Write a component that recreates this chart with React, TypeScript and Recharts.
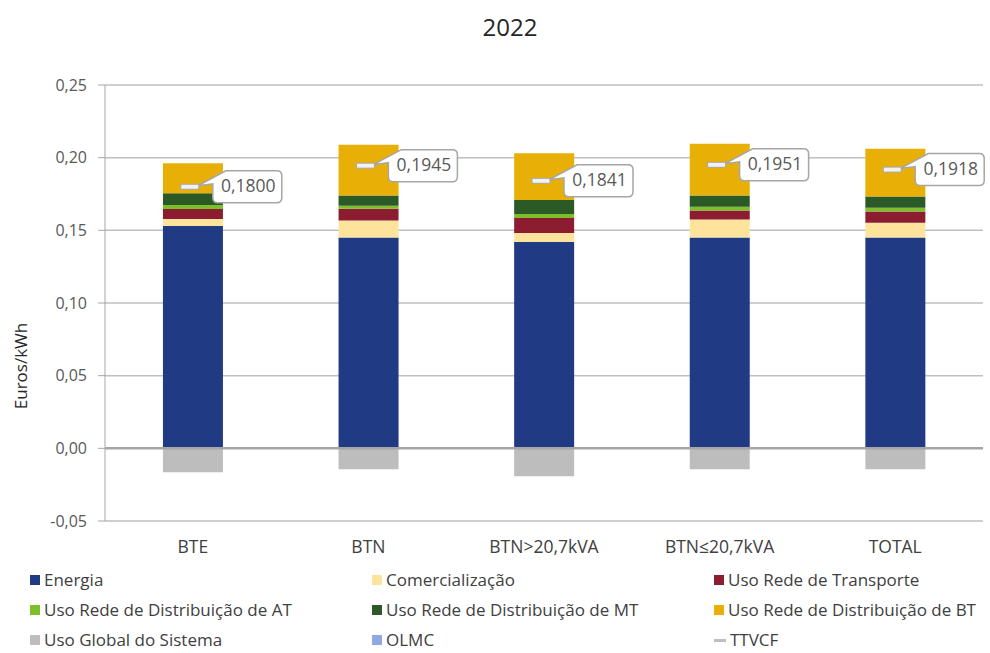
import { ComposedChart, Bar, Line, XAxis, YAxis, CartesianGrid, ReferenceLine } from 'recharts';

const categories = ['BTE', 'BTN', 'BTN>20,7kVA', 'BTN≤20,7kVA', 'TOTAL'];
const energia = [0.153, 0.145, 0.142, 0.145, 0.145];
const comercializacao = [0.0048, 0.0117, 0.0062, 0.0124, 0.0103];
const transporte = [0.0068, 0.0082, 0.0103, 0.0062, 0.0076];
const distribAT = [0.0028, 0.0021, 0.0027, 0.0027, 0.0027];
const distribMT = [0.0082, 0.0069, 0.0096, 0.0076, 0.0076];
const distribBT = [0.0206, 0.035, 0.0323, 0.0357, 0.0329];
const usoGlobal = [-0.0165, -0.0144, -0.0192, -0.0144, -0.0144];
const olmc = [0, 0, 0, 0, 0];
const ttvcf = [0.18, 0.1945, 0.1841, 0.1951, 0.1918];
const yTicks = [-0.05, 0, 0.05, 0.1, 0.15, 0.2, 0.25];

const series = [
  { key: 'energia', name: 'Energia', color: '#203a84' },
  { key: 'comercializacao', name: 'Comercialização', color: '#fde39b' },
  { key: 'transporte', name: 'Uso Rede de Transporte', color: '#8c1d30' },
  { key: 'distribAT', name: 'Uso Rede de Distribuição de AT', color: '#7cbf2a' },
  { key: 'distribMT', name: 'Uso Rede de Distribuição de MT', color: '#2b5a27' },
  { key: 'distribBT', name: 'Uso Rede de Distribuição de BT', color: '#e8b006' },
  { key: 'usoGlobal', name: 'Uso Global do Sistema', color: '#bdbdbd' },
  { key: 'olmc', name: 'OLMC', color: '#8faae0' },
];

const data = categories.map((c, i) => ({
  cat: c,
  energia: energia[i],
  comercializacao: comercializacao[i],
  transporte: transporte[i],
  distribAT: distribAT[i],
  distribMT: distribMT[i],
  distribBT: distribBT[i],
  usoGlobal: usoGlobal[i],
  olmc: olmc[i],
  ttvcf: ttvcf[i],
}));

const FONT = '"Open Sans", Lato, sans-serif';
const fmt = (v: number, d: number) => v.toFixed(d).replace('.', ',');

// marker + callout box for TTVCF
const CalloutDot = (props: any) => {
  const { cx, cy, value, index } = props;
  if (cx == null || cy == null) return null;
  const L = cx + 20, T = cy - 16, W = 69, H = 32, R = L + W, B = T + H;
  const tipX = cx + 5, tipY = cy - 1;
  const d = `M${L + 13},${T} H${R - 5} Q${R},${T} ${R},${T + 5} V${B - 5} Q${R},${B} ${R - 5},${B} H${L + 5} Q${L},${B} ${L},${B - 5} V${T + 13} L${tipX},${tipY} Z`;
  return (
    <g key={`c-${index}`}>
      <path d={d} fill="#fff" stroke="#a6a6a6" strokeWidth={1.5} />
      <rect x={cx - 12} y={cy - 2.5} width={18} height={5} fill="#f2f2f2" stroke="#a6a6a6" strokeWidth={1} />
      <text x={L + W / 2 + 1} y={cy + 1} textAnchor="middle" dominantBaseline="middle" fontSize={17.5} fill="#595959" fontFamily={FONT}>
        {fmt(value, 4)}
      </text>
    </g>
  );
};

export default function App() {
  return (
    <div style={{ position: 'absolute', left: 0, top: 0, width: 990, height: 653, background: '#fff', fontFamily: FONT }}>
      <div style={{ position: 'absolute', left: 0, width: 1020, top: 10, lineHeight: '34px', textAlign: 'center', fontSize: 24, color: '#262626' }}>2022</div>
      <div style={{ position: 'absolute', left: 20, top: 366, transform: 'translate(-50%, -50%) rotate(-90deg)', fontSize: 17, color: '#262626', whiteSpace: 'nowrap' }}>Euros/kWh</div>
      <ComposedChart width={990} height={653} data={data} stackOffset="sign" barCategoryGap="33%"
        margin={{ top: 85, right: 7, left: 0, bottom: 102 }}>
        <CartesianGrid vertical={false} stroke="#bfbfbf" strokeWidth={1.5} />
        <XAxis dataKey="cat" axisLine={false} tickLine={false} height={30}
          tick={{ fontSize: 17.5, fill: '#404040', fontFamily: FONT, dy: 12 }} />
        <YAxis width={105} domain={[-0.05, 0.25]} ticks={yTicks} interval={0}
          tickFormatter={(v: number) => fmt(v, 2)} stroke="#a6a6a6" tickSize={7}
          tick={{ fontSize: 16, fill: '#595959', fontFamily: FONT, dx: -9 }} />
        {series.map((s) => (
          <Bar key={s.key} dataKey={s.key} name={s.name} stackId="a" fill={s.color} isAnimationActive={false} />
        ))}
        <ReferenceLine y={0} stroke="#a6a6a6" strokeWidth={2.5} />
        <Line dataKey="ttvcf" name="TTVCF" stroke="none" dot={<CalloutDot />} activeDot={false} isAnimationActive={false} />
      </ComposedChart>
      {series.concat([{ key: 'ttvcf', name: 'TTVCF', color: '#bfbfbf' }]).map((s, i) => {
        const col = i % 3, row = Math.floor(i / 3);
        const isLine = s.key === 'ttvcf';
        return (
          <div key={s.key} style={{ position: 'absolute', left: 30 + col * 342, top: 580 + row * 30 - 10, height: 20, lineHeight: '20px', display: 'flex', alignItems: 'center', fontSize: 17, color: '#404040', whiteSpace: 'nowrap' }}>
            <span style={{ display: 'inline-block', width: isLine ? 12 : 10, height: isLine ? 3 : 10, background: s.color, marginRight: 4 }} />
            {s.name}
          </div>
        );
      })}
    </div>
  );
}
